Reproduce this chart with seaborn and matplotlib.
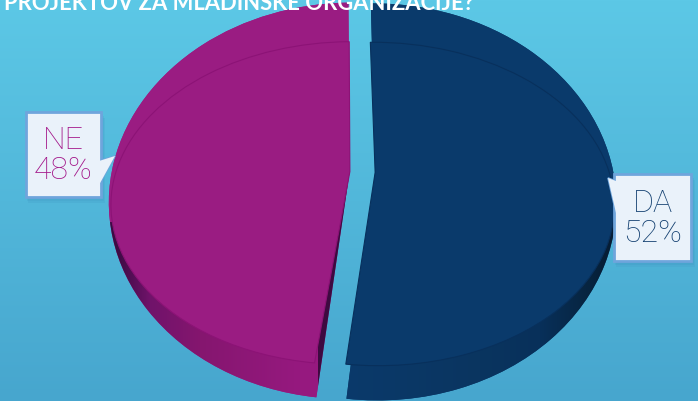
import numpy as np
import matplotlib
matplotlib.use("Agg")
import matplotlib.pyplot as plt
import matplotlib.transforms as mtrans
from matplotlib.patches import Polygon, Rectangle
import seaborn as sns

categories = ["DA", "NE"]
shares = [52, 48]
title = "PROJEKTOV ZA MLADINSKE ORGANIZACIJE?"

W, H = 698, 401
DA_COL, NE_COL = "#0A3A6B", "#9A1C82"
TEXT_COLS = ["#123F70", "#A3178A"]


class Tilt(mtrans.Transform):
    """Cheap perspective: the far side of the pie gets squeezed."""
    input_dims = 2
    output_dims = 2
    is_affine = False

    def __init__(self, k):
        super().__init__()
        self.k = k

    def transform_non_affine(self, values):
        v = np.asarray(values, dtype=float)
        w = 1 + self.k * v[:, 1]
        return np.column_stack([v[:, 0] / w, v[:, 1] / w])


def rgb(hex_list):
    return np.array([matplotlib.colors.to_rgb(c) for c in hex_list])


def wall_image(stops, cols, face, split=None):
    xs = np.arange(W) + 0.5
    c = rgb(cols)
    line = np.column_stack([np.interp(xs, stops, c[:, i]) for i in range(3)])
    img = np.repeat(line[None, :, :], H, axis=0)
    # upper part of the body has the colour of the face, the wall only starts lower down
    img[:222] = matplotlib.colors.to_rgb(face)
    if split is not None:
        img[172:222, int(split):] = line[int(split):]
    return img


def draw_pie(ax, k, sx, sy, colors):
    wedges, _ = ax.pie(shares, startangle=90.8, counterclock=False, colors=colors,
                       explode=[0.054, 0.054], radius=1, wedgeprops={"linewidth": 0})
    tr = Tilt(k) + mtrans.Affine2D().scale(sx, -sy).translate(362.5, 172) + ax.transData
    for w in wedges:
        w.set_transform(tr)
    return wedges


def callout(ax, box, tail, label, color):
    x0, y0, x1, y1 = box
    for off in [2, 4, 6]:
        ax.add_patch(Rectangle((x0 - 1 + off / 2, y0 + off), x1 - x0 + 2, y1 - y0,
                               fc="#2F6FA8", ec="none", alpha=0.09, zorder=7))
    ax.add_patch(Polygon(tail, closed=True, fc="#EAF2FA", ec="#6FA5DC", lw=1.2, zorder=8))
    ax.add_patch(Rectangle((x0, y0), x1 - x0, y1 - y0, fc="#EAF2FA", ec="#6FA5DC", lw=2, zorder=9))
    ax.add_patch(Polygon(tail, closed=True, fc="#EAF2FA", ec="none", zorder=10))
    ax.text((x0 + x1) / 2, (y0 + y1) / 2 + 1, label, color=color, ha="center", va="center",
            fontsize=23, family="Roboto", weight="light", linespacing=1.05, zorder=11)


sns.set_theme(style="white")
fig = plt.figure(figsize=(W / 100, H / 100), dpi=100)
ax = fig.add_axes([0, 0, 1, 1])

# background
top, bottom = rgb(["#5CC8E6", "#47A6CE"])
t = np.linspace(0, 1, H)[:, None, None]
ax.imshow(top[None, None, :] * (1 - t) + bottom[None, None, :] * t,
          extent=[0, W, H, 0], aspect="auto", zorder=0)

# outline of the whole body, filled with the side wall shading
body = draw_pie(ax, 0.148, 238, 194, [DA_COL, NE_COL])
for w in body:
    w.set_zorder(1)
da_img = wall_image([346, 480, 540, 590, 612], ["#0A3A6B", "#0A3560", "#08305A", "#07243F", "#061C33"], DA_COL)
ne_img = wall_image([110, 118, 150, 200, 300, 318, 318.5, 350],
                    ["#3A0C44", "#3E0B45", "#70136A", "#85166F", "#96197F", "#96197F", "#3D0A40", "#3D0A40"],
                    NE_COL, split=318)
for img, wedge in zip([da_img, ne_img], body):
    im = ax.imshow(img, extent=[0, W, H, 0], aspect="auto", zorder=2)
    im.set_clip_path(wedge)

# top face, the rim line is only a shade off the fill
face = draw_pie(ax, 0.195, 234, 155.4, [DA_COL, NE_COL])
face[0].set_edgecolor("#08305C")
face[1].set_edgecolor("#8C1376")
for w in face:
    w.set_linewidth(0.8)
    w.set_zorder(3)

ax.set_xlim(0, W)
ax.set_ylim(H, 0)
ax.set_aspect("auto")
ax.axis("off")

ax.text(3.5, 10, title, color="white", fontsize=15.8, family="Lato", weight="bold",
        ha="left", va="baseline", zorder=12)

labels = [f"{c}\n{s}%" for c, s in zip(categories, shares)]
callout(ax, (614, 174, 691, 261), [(608, 178), (616, 181), (616, 213)], labels[0], TEXT_COLS[0])
callout(ax, (26, 112, 101, 197), [(115, 156), (99, 161), (99, 185)], labels[1], TEXT_COLS[1])

fig.savefig("out.png", dpi=100)
